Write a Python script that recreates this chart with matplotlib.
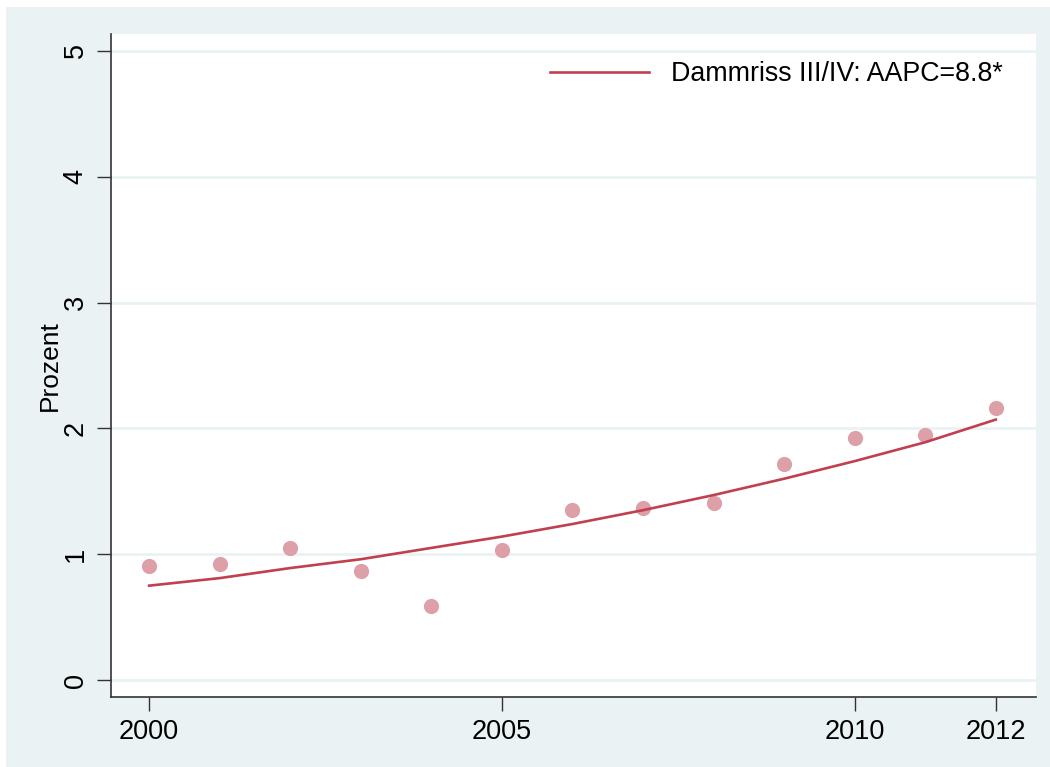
import matplotlib
matplotlib.use("Agg")
import matplotlib.pyplot as plt
from matplotlib.patches import Rectangle

plt.rcParams["font.family"] = ["Liberation Sans", "DejaVu Sans"]

# Data
years = [2000, 2001, 2002, 2003, 2004, 2005, 2006, 2007, 2008, 2009, 2010, 2011, 2012]
observed = [0.91, 0.92, 1.05, 0.87, 0.59, 1.03, 1.35, 1.37, 1.41, 1.72, 1.92, 1.95, 2.16]
fitted = [0.75, 0.81, 0.89, 0.96, 1.05, 1.14, 1.24, 1.35, 1.47, 1.60, 1.74, 1.89, 2.07]
xticks = [2000, 2005, 2010, 2012]
yticks = [0, 1, 2, 3, 4, 5]
label = "Dammriss III/IV: AAPC=8.8*"

bg = "#EAF2F3"
line_color = "#C0404F"
dot_color = "#DDA0A8"

fig = plt.figure(figsize=(10.5, 7.67), dpi=100, facecolor="white")
# grey outer panel, drawn below the axes
fig.patches.append(Rectangle((6 / 1050, 0), 1 - 6 / 1050, 1 - 7 / 767,
                             transform=fig.transFigure, facecolor=bg,
                             edgecolor="none", zorder=-10))

ax = fig.add_axes([111 / 1050, 1 - 697 / 767, (1036 - 111) / 1050, (697 - 34) / 767])
ax.set_facecolor("white")

for y in yticks:
    ax.axhline(y, color=bg, lw=2, zorder=1)

ax.scatter(years, observed, s=120, color=dot_color, zorder=3, linewidths=0)
ax.plot(years, fitted, color=line_color, lw=1.9, zorder=4, label=label)

ax.set_xlim(1999.46, 2012.57)
ax.set_ylim(-0.135, 5.135)
ax.set_xticks(xticks)
ax.set_yticks(yticks)
ax.tick_params(axis="both", length=10, width=1, color="#333333", labelsize=19.5, pad=6)
for t in ax.get_yticklabels():
    t.set_rotation(90)
    t.set_va("center")

for side in ["top", "right"]:
    ax.spines[side].set_visible(False)
for side in ["left", "bottom"]:
    ax.spines[side].set_color("#333333")
    ax.spines[side].set_linewidth(1.2)

ax.set_ylabel("Prozent", fontsize=19, labelpad=1)

ax.legend(loc="upper right", frameon=False, fontsize=19.3, handlelength=3.7,
          handletextpad=0.8, bbox_to_anchor=(0.99, 0.995))

fig.savefig("out.png", dpi=100, facecolor=fig.get_facecolor())
